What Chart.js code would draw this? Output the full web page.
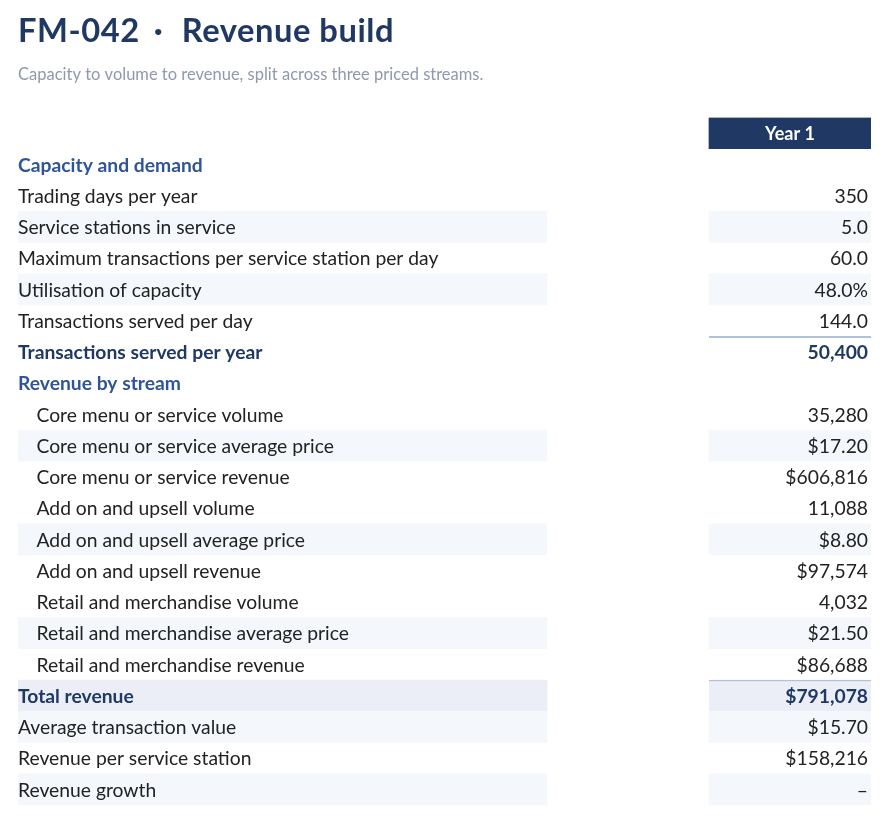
<!DOCTYPE html>
<html><head><meta charset="utf-8">
<script src="https://cdn.jsdelivr.net/npm/chart.js@4.4.1/dist/chart.umd.min.js"></script>
<style>html,body{margin:0;padding:0;background:#fff}canvas{display:block}</style>
</head><body>
<canvas id="c" width="887" height="817"></canvas>
<script>
const titleCode = 'FM-042';
const titleSep = '\u00B7';
const titleName = 'Revenue build';
const subtitleText = 'Capacity to volume to revenue, split across three priced streams.';
const columnHeader = 'Year 1';
const rowLabels = [
  'Capacity and demand',
  'Trading days per year',
  'Service stations in service',
  'Maximum transactions per service station per day',
  'Utilisation of capacity',
  'Transactions served per day',
  'Transactions served per year',
  'Revenue by stream',
  'Core menu or service volume',
  'Core menu or service average price',
  'Core menu or service revenue',
  'Add on and upsell volume',
  'Add on and upsell average price',
  'Add on and upsell revenue',
  'Retail and merchandise volume',
  'Retail and merchandise average price',
  'Retail and merchandise revenue',
  'Total revenue',
  'Average transaction value',
  'Revenue per service station',
  'Revenue growth'
];
const rowValues = [
  '', '350', '5.0', '60.0', '48.0%', '144.0', '50,400',
  '', '35,280', '$17.20', '$606,816', '11,088', '$8.80', '$97,574',
  '4,032', '$21.50', '$86,688', '$791,078', '$15.70', '$158,216', '\u2013'
];
const rowKinds = [
  'section', 'item', 'item', 'item', 'item', 'item', 'total',
  'section', 'sub', 'sub', 'sub', 'sub', 'sub', 'sub',
  'sub', 'sub', 'sub', 'grand', 'item', 'item', 'item'
];
const shadedRows = [2, 4, 9, 12, 15, 18, 20];

// ---- layout / style ----
const FONT = 'Lato, "Noto Sans", sans-serif';
const NAVY = '#1f3864';
const BLUE = '#2f5597';
const TEXT = '#222222';
const STRIPE = '#f4f7fb';
const GRAND_FILL = '#ebeef6';
const RULE = '#b3c0da';
const LABEL_COL = [0, 529];
const VALUE_COL = [691, 853];
const BODY_SIZE = 19.3;
const TITLE_SIZE = 32.7;

const categories = [columnHeader].concat(rowLabels);
const kinds = ['header'].concat(rowKinds);
const isShaded = i => i > 0 && shadedRows.includes(i - 1);

const labelBand = kinds.map((k, i) => (k === 'grand' || isShaded(i)) ? LABEL_COL : null);
const valueBand = kinds.map((k, i) => (k === 'header' || k === 'grand' || k === 'total' || isShaded(i)) ? VALUE_COL : null);

function fillFor(i) {
  const k = kinds[i];
  if (k === 'header') return NAVY;
  if (k === 'grand') return GRAND_FILL;
  if (isShaded(i)) return STRIPE;
  return 'rgba(0,0,0,0)';
}

const textPlugin = {
  id: 'tableText',
  afterDatasetsDraw(chart) {
    const ctx = chart.ctx;
    const ys = chart.scales.y, xs = chart.scales.x;
    const left = xs.getPixelForValue(LABEL_COL[0]);
    ctx.save();
    ctx.textAlign = 'left';
    ctx.textBaseline = 'alphabetic';
    // title
    ctx.font = 'bold ' + TITLE_SIZE + 'px ' + FONT;
    const w1 = ctx.measureText(titleCode).width;
    const w2 = ctx.measureText(titleName).width;
    let ls = ((116 - w1) + (218 - w2)) / 19;
    ls = Math.max(-1, Math.min(1.5, ls));
    ctx.fillStyle = NAVY;
    if ('letterSpacing' in ctx) ctx.letterSpacing = ls.toFixed(2) + 'px';
    ctx.fillText(titleCode, left, 42);
    ctx.fillText(titleName, left + 163.7, 42);
    if ('letterSpacing' in ctx) ctx.letterSpacing = '0px';
    ctx.textAlign = 'center';
    ctx.fillText(titleSep, left + 140.3, 42);
    ctx.textAlign = 'left';

    ctx.fillStyle = '#8e99ae';
    ctx.font = '16.5px ' + FONT;
    ctx.fillText(subtitleText, left, 80.3);

    categories.forEach((lab, i) => {
      const y = ys.getPixelForValue(i);
      const k = kinds[i];
      const base = y + 7.2;
      if (k === 'header') {
        ctx.fillStyle = '#ffffff';
        ctx.font = 'bold 18px ' + FONT;
        ctx.textAlign = 'center';
        ctx.fillText(lab, (xs.getPixelForValue(VALUE_COL[0]) + xs.getPixelForValue(VALUE_COL[1])) / 2, y + 7);
        return;
      }
      let font = BODY_SIZE + 'px ' + FONT, color = TEXT, indent = 0;
      if (k === 'section') { font = 'bold ' + BODY_SIZE + 'px ' + FONT; color = BLUE; }
      else if (k === 'total' || k === 'grand') { font = 'bold ' + BODY_SIZE + 'px ' + FONT; color = NAVY; }
      else if (k === 'sub') { indent = 18.5; }
      ctx.font = font;
      ctx.fillStyle = color;
      ctx.textAlign = 'left';
      ctx.fillText(lab, left + indent, base);
      const v = rowValues[i - 1];
      if (v) {
        ctx.textAlign = 'right';
        ctx.fillText(v, xs.getPixelForValue(VALUE_COL[1]) - 3, base);
      }
    });
    ctx.restore();
  }
};

new Chart(document.getElementById('c'), {
  type: 'bar',
  data: {
    labels: categories,
    datasets: [
      {
        label: 'Label column',
        data: labelBand,
        backgroundColor: ctx => fillFor(ctx.dataIndex),
        borderWidth: 0,
        categoryPercentage: 1,
        barPercentage: 1,
        grouped: false
      },
      {
        label: 'Value column',
        data: valueBand,
        backgroundColor: ctx => fillFor(ctx.dataIndex),
        borderColor: RULE,
        borderWidth: ctx => {
          const k = kinds[ctx.dataIndex];
          return (k === 'total' || k === 'grand') ? { top: 1.5, right: 0, bottom: 0, left: 0 } : 0;
        },
        borderSkipped: false,
        categoryPercentage: 1,
        barPercentage: 1,
        grouped: false
      }
    ]
  },
  options: {
    indexAxis: 'y',
    responsive: false,
    animation: false,
    devicePixelRatio: 1,
    layout: { padding: { left: 18, right: 16, top: 117.5, bottom: 12 } },
    plugins: { legend: { display: false }, tooltip: { enabled: false }, title: { display: false } },
    scales: {
      x: { type: 'linear', min: 0, max: 853, display: false },
      y: { type: 'category', display: false, offset: true }
    }
  },
  plugins: [textPlugin]
});
</script>
</body></html>
